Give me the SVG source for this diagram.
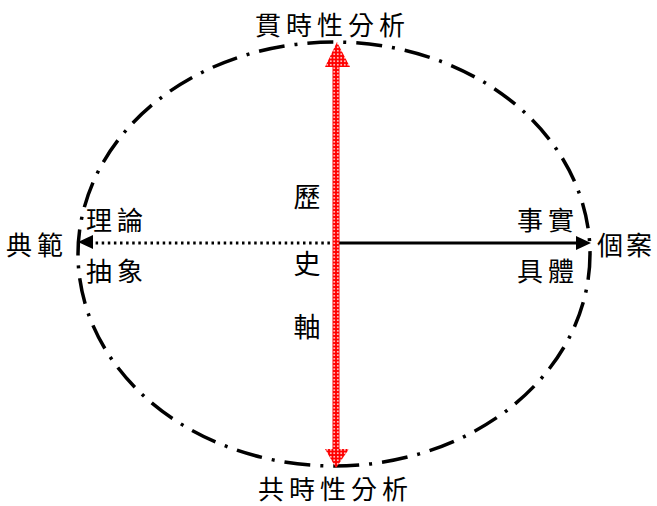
<svg xmlns="http://www.w3.org/2000/svg" width="657" height="506" viewBox="0 0 657 506">
<defs>
<pattern id="rp" width="3.5" height="3.5" patternUnits="userSpaceOnUse">
<rect width="3.5" height="3.5" fill="#ff0000"/>
<rect x="1" y="1" width="1.5" height="1.5" fill="#ffffff"/>
</pattern>
<style>
.t{font-family:"Noto Sans CJK TC","Noto Sans CJK SC",sans-serif;font-size:26px;fill:#000;letter-spacing:5px}
.v{font-family:"Noto Sans CJK TC","Noto Sans CJK SC",sans-serif;font-size:27px;fill:#000;text-anchor:middle}
</style>
</defs>
<rect width="657" height="506" fill="#fff"/>
<g id="ellipse">
<ellipse cx="334" cy="254" rx="256" ry="212" fill="none" stroke="#000" stroke-width="3.5" stroke-dasharray="26 10 3 10"/>
</g>
<g id="connectors">
<line x1="336" y1="243" x2="92" y2="243" stroke="#000" stroke-width="3" stroke-dasharray="2.5 3.6"/>
<polygon points="78,242 93,235 93,249" fill="#000"/>
<line x1="336" y1="243" x2="578" y2="243" stroke="#000" stroke-width="3"/>
<polygon points="591,243 576,236 576,250" fill="#000"/>
<g id="timeline">
<rect x="332.5" y="64" width="7" height="388" fill="url(#rp)"/>
<polygon points="337,42 325,67 350,67" fill="url(#rp)"/>
<polygon points="336,468 325,449 349,449" fill="url(#rp)"/>
</g>
</g>
<g id="top"><text class="t" x="255" y="35">貫時性分析</text></g>
<g id="bottom"><text class="t" x="258" y="499">共時性分析</text></g>
<g id="left"><text class="t" x="6" y="255">典範</text></g>
<g id="right"><text class="t" x="597" y="255" style="letter-spacing:3px">個案</text></g>
<g id="leftlabels"><text class="t" x="86" y="230">理論</text><text class="t" x="86" y="281">抽象</text></g>
<g id="rightlabels"><text class="t" x="517" y="230">事實</text><text class="t" x="517" y="281">具體</text></g>
<g id="axis"><text class="v" x="307" y="207">歷</text><text class="v" x="307" y="274">史</text><text class="v" x="307" y="337">軸</text></g>
</svg>
